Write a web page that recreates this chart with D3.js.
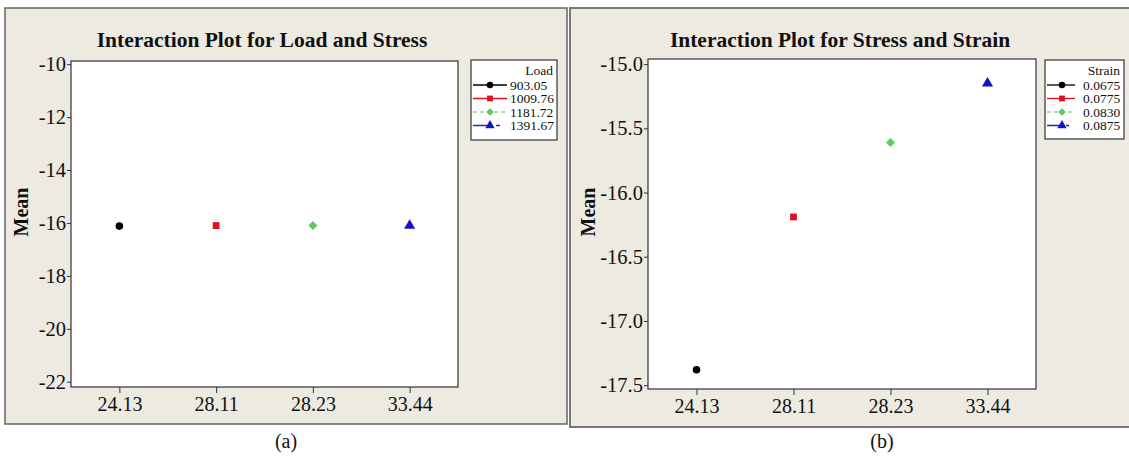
<!DOCTYPE html>
<html>
<head>
<meta charset="utf-8">
<script src="https://cdn.jsdelivr.net/npm/d3@7"></script>
<style>
  html, body { margin: 0; padding: 0; background: #ffffff; }
  svg { display: block; }
  text { font-family: "Liberation Serif", "DejaVu Serif", serif; fill: #111; }
</style>
</head>
<body>
<svg id="chart" width="1129" height="456"></svg>
<script>
// Stress levels on the x axis (shared by both plots)
const stressLevels = ["24.13", "28.11", "28.23", "33.44"];

// Plot (a): mean response for each load level
const loadLevels = ["903.05", "1009.76", "1181.72", "1391.67"];
const loadMeans = [-16.12, -16.10, -16.10, -16.10];
const loadTicks = [-10, -12, -14, -16, -18, -20, -22];

// Plot (b): mean response for each strain level
const strainLevels = ["0.0675", "0.0775", "0.0830", "0.0875"];
const strainMeans = [-17.38, -16.19, -15.61, -15.15];
const strainTicks = [-15.0, -15.5, -16.0, -16.5, -17.0, -17.5];

// Series styling (marker colour, legend line colour, symbol)
const seriesColors = ["#000000", "#e3101a", "#5fc95f", "#1414c4"];
const lineColors = ["#000000", "#e3101a", "#8fd88f", "#2a2a9a"];
const symbols = [d3.symbolCircle, d3.symbolSquare, d3.symbolSquare, d3.symbolTriangle];
const rotations = [0, 0, 45, 0];   // the third series uses a square turned into a diamond
const pointSizes = [46, 46, 40, 54];
const keySizes = [34, 34, 28, 38];

const FONT = "'Liberation Serif', 'DejaVu Serif', serif";
const svg = d3.select("#chart");

function drawPanel(cfg) {
  const g = svg.append("g");

  // beige panel frame
  g.append("rect")
    .attr("x", cfg.frame[0]).attr("y", cfg.frame[1])
    .attr("width", cfg.frame[2]).attr("height", cfg.frame[3])
    .attr("fill", "#edeae2").attr("stroke", cfg.frameStroke)
    .attr("stroke-width", cfg.frameWidth);

  const [L, T, R, B] = cfg.plot;
  const x = d3.scalePoint().domain(stressLevels).range([L, R]).padding(0.5);
  const y = d3.scaleLinear().domain(cfg.yDomain).range([B, T]);

  // white plotting area
  g.append("rect")
    .attr("x", L).attr("y", T).attr("width", R - L).attr("height", B - T)
    .attr("fill", "#ffffff").attr("stroke", "#333").attr("stroke-width", 1.2);

  // y axis
  const yAxis = g.append("g").attr("transform", `translate(${L},0)`)
    .call(d3.axisLeft(y).tickValues(cfg.ticks).tickSize(4).tickPadding(1)
      .tickFormat(cfg.fmt));
  yAxis.select(".domain").remove();
  yAxis.selectAll("line").attr("stroke", "#333");
  yAxis.selectAll("text").attr("font-size", 20.5)
    .attr("font-family", FONT).attr("fill", "#111");

  // x axis
  const xAxis = g.append("g").attr("transform", `translate(0,${B})`)
    .call(d3.axisBottom(x).tickSize(6).tickPadding(4));
  xAxis.select(".domain").remove();
  xAxis.selectAll("line").attr("stroke", "#333");
  xAxis.selectAll("text").attr("font-size", 20)
    .attr("font-family", FONT).attr("fill", "#111");

  // title
  g.append("text")
    .attr("x", cfg.titleX).attr("y", 47)
    .attr("text-anchor", "middle")
    .attr("font-size", 21.5).attr("font-weight", "bold")
    .text(cfg.title);

  // y axis label
  g.append("text")
    .attr("transform", `translate(${cfg.meanX},212) rotate(-90)`)
    .attr("text-anchor", "middle").attr("dominant-baseline", "central")
    .attr("font-size", 20).attr("font-weight", "bold")
    .text("Mean");

  // mean points
  g.selectAll("path.pt")
    .data(cfg.means)
    .join("path")
    .attr("class", "pt")
    .attr("transform", (d, i) => `translate(${x(stressLevels[i])},${y(d)}) rotate(${rotations[i]})`)
    .attr("d", (d, i) => d3.symbol().type(symbols[i]).size(pointSizes[i])())
    .attr("fill", (d, i) => seriesColors[i]);

  // legend
  const lg = cfg.legend;
  g.append("rect")
    .attr("x", lg.x0).attr("y", lg.y0)
    .attr("width", lg.x1 - lg.x0).attr("height", lg.y1 - lg.y0)
    .attr("fill", "#ffffff").attr("stroke", "#333").attr("stroke-width", 1.2);
  g.append("text")
    .attr("x", lg.titleRight).attr("y", lg.rowY[0])
    .attr("text-anchor", "end").attr("dominant-baseline", "central")
    .attr("font-size", 13.5).text(cfg.legendTitle);

  cfg.levels.forEach((lab, i) => {
    const yy = lg.rowY[i + 1];
    const dash = i === 2 ? lg.greenDash : (i === 3 ? lg.blueDash : null);
    g.append("line")
      .attr("x1", lg.lineX0).attr("x2", lg.lineX1)
      .attr("y1", yy).attr("y2", yy)
      .attr("stroke", lineColors[i]).attr("stroke-width", 1.3)
      .attr("stroke-dasharray", dash);
    g.append("path")
      .attr("transform", `translate(${lg.markX},${yy}) rotate(${rotations[i]})`)
      .attr("d", d3.symbol().type(symbols[i]).size(keySizes[i])())
      .attr("fill", seriesColors[i]);
    g.append("text")
      .attr("x", lg.textX).attr("y", yy)
      .attr("dominant-baseline", "central")
      .attr("font-size", 13.5).text(lab);
  });

  // sub-figure caption
  svg.append("text")
    .attr("x", cfg.captionX).attr("y", 448)
    .attr("text-anchor", "middle").attr("font-size", 20)
    .text(cfg.caption);
}

drawPanel({
  frame: [5, 8, 562, 416], frameStroke: "#666", frameWidth: 1.5,
  plot: [71, 61, 458, 387],
  yDomain: [-22.2, -9.88],
  ticks: loadTicks, fmt: d => String(d),
  means: loadMeans, levels: loadLevels,
  title: "Interaction Plot for Load and Stress", titleX: 262,
  meanX: 21, legendTitle: "Load",
  legend: {
    x0: 471, x1: 557, y0: 60, y1: 140,
    rowY: [70, 85, 98.5, 112, 125.5],
    titleRight: 553, lineX0: 473, lineX1: 507, markX: 490, textX: 510,
    greenDash: "4,3", blueDash: "15,8,4,8"
  },
  caption: "(a)", captionX: 286
});

drawPanel({
  frame: [570, 8, 600, 419], frameStroke: "#777", frameWidth: 2,
  plot: [648, 59, 1036, 389],
  yDomain: [-17.53, -14.96],
  ticks: strainTicks, fmt: d => d.toFixed(1),
  means: strainMeans, levels: strainLevels,
  title: "Interaction Plot for Stress and Strain", titleX: 840,
  meanX: 588, legendTitle: "Strain",
  legend: {
    x0: 1045, x1: 1124, y0: 60, y1: 139,
    rowY: [70, 85, 98.5, 112, 125.5],
    titleRight: 1120, lineX0: 1047, lineX1: 1075, markX: 1062, textX: 1083,
    greenDash: "4,3", blueDash: "13,6,3,6"
  },
  caption: "(b)", captionX: 882
});
</script>
</body>
</html>
